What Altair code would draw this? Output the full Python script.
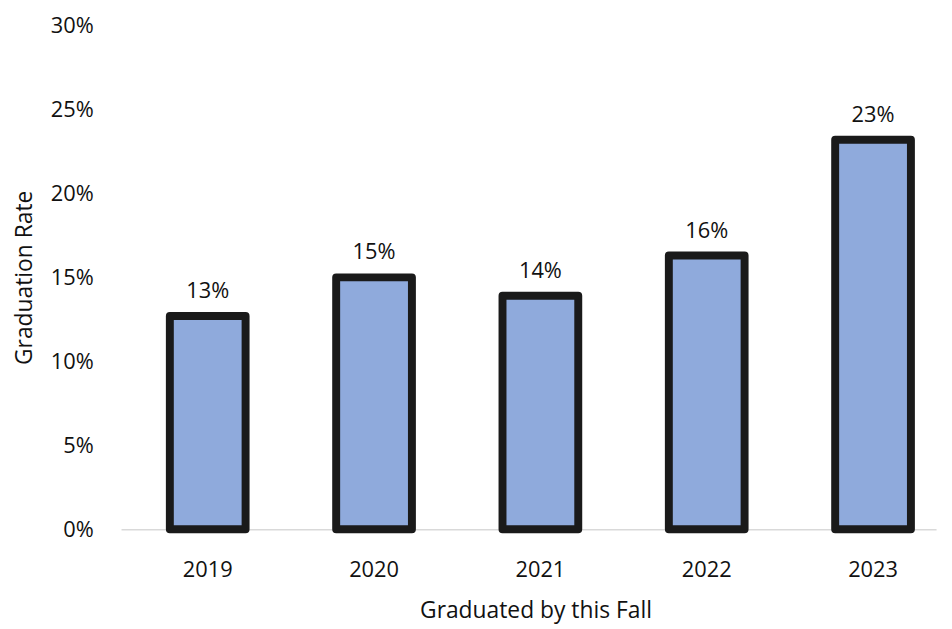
import altair as alt
import pandas as pd

years = ["2019", "2020", "2021", "2022", "2023"]
rates = [0.127, 0.150, 0.139, 0.163, 0.232]
labels = ["13%", "15%", "14%", "16%", "23%"]

df = pd.DataFrame({"year": years, "rate": rates, "label": labels})

FONT = "Open Sans"

x = alt.X(
    "year:N",
    sort=years,
    scale=alt.Scale(paddingInner=0.5446, paddingOuter=0.2223, align=0.66),
    axis=alt.Axis(
        title="Graduated by this Fall",
        labelAngle=0,
        ticks=False,
        labelPadding=41,
        labelBaseline="middle",
        labelFontSize=22,
        labelFont=FONT,
        labelColor="#111111",
        domainColor="#d9d9d9",
        domainWidth=1.5,
        titleFont=FONT,
        titleFontSize=23,
        titleFontWeight="normal",
        titleColor="#111111",
        titleX=418,
        titleY=82,
        titleBaseline="middle",
        titleAlign="center",
    ),
)

y = alt.Y(
    "rate:Q",
    scale=alt.Scale(domain=[0, 0.30], nice=False),
    axis=alt.Axis(
        title="Graduation Rate",
        values=[0, 0.05, 0.10, 0.15, 0.20, 0.25, 0.30],
        format=".0%",
        grid=False,
        domain=False,
        ticks=False,
        labelPadding=28,
        labelFontSize=22,
        labelFont=FONT,
        labelColor="#111111",
        titleFont=FONT,
        titleFontSize=23,
        titleFontWeight="normal",
        titleColor="#111111",
        titleAngle=270,
        titleX=-97,
        titleY=254,
        titleBaseline="middle",
        titleAlign="center",
    ),
)

bars = alt.Chart(df).mark_bar(
    fill="#8faadc",
    stroke="#1a1a1a",
    strokeWidth=8,
    strokeJoin="round",
).encode(x=x, y=y)

text = alt.Chart(df).mark_text(
    font=FONT,
    fontSize=22,
    color="#111111",
    baseline="middle",
    dy=-25,
).encode(x=alt.X("year:N", sort=years), y="rate:Q", text="label:N")

chart = (
    alt.layer(bars, text)
    .properties(
        width=822,
        height=508,
        background="white",
        autosize=alt.AutoSizeParams(type="none"),
        padding={"left": 114, "top": 15, "right": 8, "bottom": 96},
    )
    .configure_view(strokeWidth=0, stroke="transparent")
)

chart.save("out.html", embed_options={"renderer": "svg", "actions": False})
